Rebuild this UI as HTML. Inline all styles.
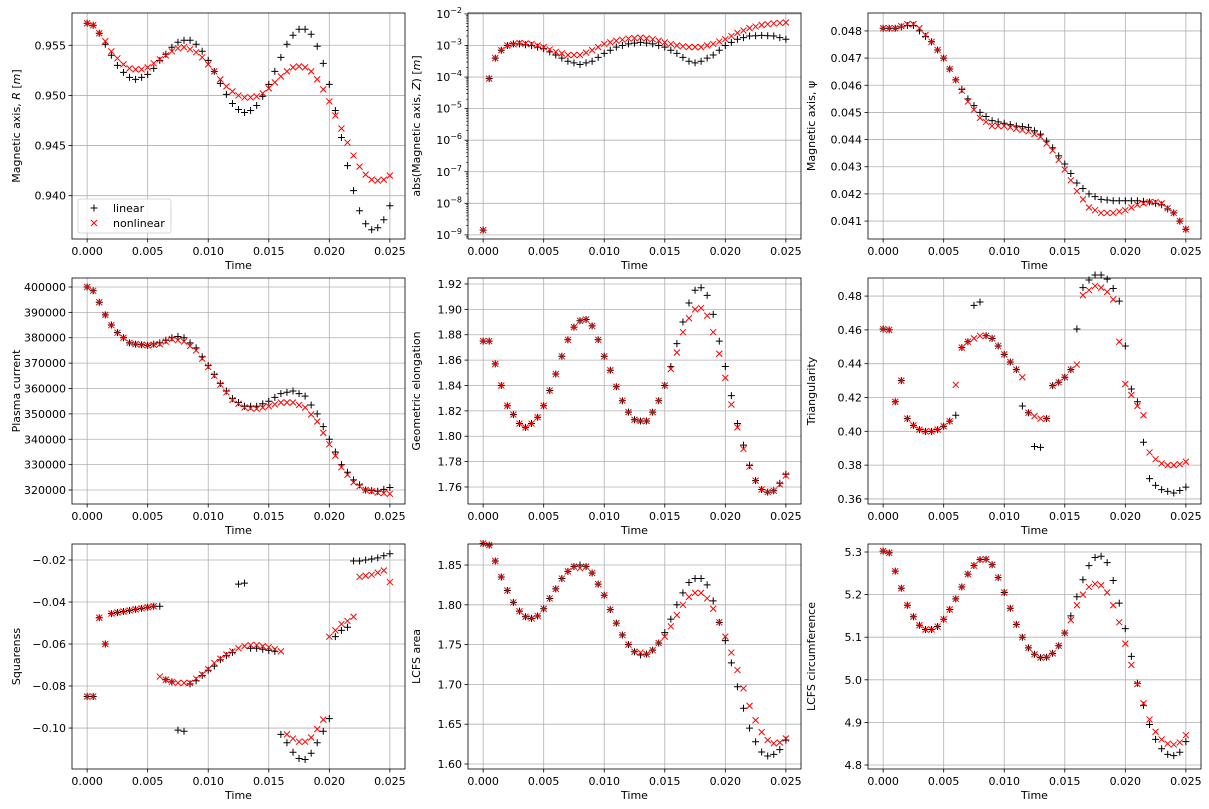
<!DOCTYPE html>
<html><head><meta charset="utf-8"><style>
html,body{margin:0;padding:0;background:#fff;}
svg{display:block;font-family:"DejaVu Sans","Liberation Sans",sans-serif;}
</style></head><body>
<svg id="s" width="1209" height="809" xmlns="http://www.w3.org/2000/svg"></svg>
<script>
const S=document.getElementById('s');let out='';
const NaN_=NaN;
function interp(kp){const a=[];for(let i=0;i<=50;i++){let v=NaN;for(let k=0;k<kp.length-1;k++){const[i0,v0]=kp[k],[i1,v1]=kp[k+1];if(i>=i0&&i<=i1){v=v0+(v1-v0)*(i-i0)/(i1-i0);break;}}a.push(v);}return a;}
function fromFlat(f){const kp=[];for(let k=0;k<f.length;k+=2)kp.push([f[k],f[k+1]]);return interp(kp);}
const cols=[[72,405],[468,801],[868,1201]],rows=[[13,239],[278,504],[544,769]];
const xl=[-0.00125,0.02625];
function fmt(v,d){let s=v.toFixed(d);return s.replace('-','\u2212');}
function panel(c,r,yl,ticks,dec,label,lin,nl,opts){opts=opts||{};
 const[x0,x1]=cols[c],[y0,y1]=rows[r];
 const X=t=>x0+(t-xl[0])/(xl[1]-xl[0])*(x1-x0);
 const Y=v=>y1-(v-yl[0])/(yl[1]-yl[0])*(y1-y0);
 // grid
 for(let k=0;k<=5;k++){const t=k*0.005,x=X(t);out+=`<line x1="${x}" y1="${y0}" x2="${x}" y2="${y1}" stroke="#b0b0b0" stroke-width="0.8"/>`;
  out+=`<line x1="${x}" y1="${y1}" x2="${x}" y2="${y1+3.5}" stroke="#000" stroke-width="0.8"/>`;
  out+=`<text x="${x}" y="${y1+16}" font-size="11" text-anchor="middle" fill="#000">${t.toFixed(3)}</text>`;}
 out+=`<text x="${(x0+x1)/2}" y="${y1+30}" font-size="11" text-anchor="middle">Time</text>`;
 for(const v of ticks){const y=Y(v);out+=`<line x1="${x0}" y1="${y}" x2="${x1}" y2="${y}" stroke="#b0b0b0" stroke-width="0.8"/><line x1="${x0-3.5}" y1="${y}" x2="${x0}" y2="${y}" stroke="#000" stroke-width="0.8"/>`;
  if(opts.log){out+=`<text x="${x0-6}" y="${y+4}" font-size="11" text-anchor="end">10<tspan dy="-5" font-size="8">\u2212${-v}</tspan></text>`;}
  else out+=`<text x="${x0-6}" y="${y+4}" font-size="11" text-anchor="end">${fmt(v,dec)}</text>`;}
 if(opts.log){for(let d=-10;d<-1;d++)for(let m=2;m<10;m++){const v=d+Math.log10(m);if(v>yl[0]&&v<yl[1]){const y=Y(v);out+=`<line x1="${x0-2}" y1="${y}" x2="${x0}" y2="${y}" stroke="#000" stroke-width="0.6"/>`;}}}
 // data
 for(let i=0;i<=50;i++){const t=i*0.0005,x=X(t);
  const a=lin[i];if(!isNaN(a)){const y=Y(a);out+=`<path d="M${x-3.5} ${y}H${x+3.5}M${x} ${y-3.5}V${y+3.5}" stroke="#000" stroke-width="1"/>`;}
  const b=nl[i];if(!isNaN(b)){const y=Y(b);out+=`<path d="M${x-3} ${y-3}L${x+3} ${y+3}M${x-3} ${y+3}L${x+3} ${y-3}" stroke="#f00" stroke-width="1"/>`;}}
 out+=`<rect x="${x0}" y="${y0}" width="${x1-x0}" height="${y1-y0}" fill="none" stroke="#000" stroke-width="0.8"/>`;
 const lx=[20,420,815][c];const ly=(y0+y1)/2;
 out+=`<text transform="translate(${lx},${ly}) rotate(-90)" font-size="11" text-anchor="middle">${label}</text>`;
}
// Panel 1
const p1l=[.9572,.9570,.9562,.9551,.9540,.9530,.9523,.9518,.9516,.9518,.9521,.9527,.9535,.9541,.9548,.9553,.9555,.9555,.9551,.9544,.9535,.9524,.9512,.9501,.9492,.9486,.9483,.9485,.9490,.9499,.9511,.9524,.9538,.9551,.9560,.9566,.9566,.9561,.9549,.9532,.9511,.9485,.9458,.9430,.9405,.9385,.9372,.9366,.9368,.9376,.9390];
const p1n=[.9572,.9570,.9562,.9554,.9544,.9537,.9531,.9527,.9526,.9526,.9528,.9532,.9536,.9540,.9544,.9547,.9548,.9546,.9543,.9538,.9531,.9524,.9516,.9509,.9504,.9500,.9498,.9498,.9499,.9502,.9507,.9513,.9519,.9524,.9528,.9529,.9528,.9524,.9516,.9506,.9494,.9480,.9467,.9453,.9440,.9429,.9421,.9416,.9415,.9416,.9420];
panel(0,0,[0.93568,0.95822],[.940,.945,.950,.955],3,'Magnetic axis, <tspan font-style="italic">R</tspan> [<tspan font-style="italic">m</tspan>]',p1l,p1n);
// Panel 2
const p2l=fromFlat([0,-8.85,1,-4.05,2,-3.4,3,-3.15,4,-3.0,5,-2.95,6,-2.95,8,-3.0,10,-3.1,12,-3.3,14,-3.5,16,-3.6,18,-3.5,20,-3.25,22,-3.05,24,-2.95,26,-2.9,28,-2.95,30,-3.05,32,-3.25,34,-3.5,35,-3.55,36,-3.5,38,-3.3,40,-3.0,42,-2.8,44,-2.7,46,-2.68,48,-2.7,50,-2.8]);
const p2n=fromFlat([0,-8.85,1,-4.05,2,-3.4,3,-3.15,4,-3.0,6,-2.92,8,-2.95,10,-3.05,12,-3.2,14,-3.3,16,-3.3,18,-3.15,20,-2.95,22,-2.85,24,-2.78,26,-2.75,28,-2.8,30,-2.9,32,-3.0,34,-3.05,36,-3.05,38,-2.95,40,-2.8,42,-2.6,44,-2.45,46,-2.35,48,-2.3,50,-2.27]);
panel(1,0,[-9.13,-1.97],[-9,-8,-7,-6,-5,-4,-3,-2],0,'abs(Magnetic axis, <tspan font-style="italic">Z</tspan>) [<tspan font-style="italic">m</tspan>]',p2l,p2n,{log:true});
// Panel 3
const p3l=fromFlat([0,.0481,2,.0481,4,.0482,5,.0482,6,.0480,8,.0476,10,.0470,12,.0462,14,.0455,16,.0450,18,.0447,20,.0446,22,.0445,24,.04445,26,.0442,28,.0437,30,.0431,32,.0424,34,.0420,36,.0418,38,.04175,42,.04175,44,.0417,46,.0416,48,.0413,50,.0407]);
const p3n=fromFlat([0,.0481,2,.0481,4,.04825,5,.04825,6,.0481,8,.0476,10,.0470,12,.0462,14,.0454,16,.0448,18,.0445,20,.0445,22,.0444,24,.0443,26,.0441,28,.0436,30,.0429,32,.0421,34,.0415,36,.0413,38,.0413,40,.0414,42,.0416,44,.0417,45,.0417,46,.04165,48,.0413,50,.0407]);
panel(2,0,[0.04034,0.04866],[.041,.042,.043,.044,.045,.046,.047,.048],3,'Magnetic axis, \u03C8',p3l,p3n);
// Panel 4
const p4l=fromFlat([0,400000,1,398500,2,394000,3,389000,4,385000,5,382000,6,380000,7,378000,8,377500,10,377000,12,378000,14,380000,15,380500,16,380000,18,376000,20,369000,22,362000,24,356000,26,353000,28,353000,30,355000,32,358000,34,359000,36,357000,38,350000,40,340000,42,330000,44,324000,46,320000,48,319500,50,321000]);
const p4n=fromFlat([0,400000,1,398500,2,394000,3,389000,4,385000,5,382000,6,380000,7,378000,8,377500,10,377000,12,377500,14,379500,16,378500,18,375000,20,368500,22,361500,24,355500,26,352500,28,352000,30,353000,32,354500,34,354500,36,352500,38,347000,40,338000,42,329000,44,323000,46,320000,48,319000,50,318500]);
panel(0,1,[314488,403543],[320000,330000,340000,350000,360000,370000,380000,390000,400000],0,'Plasma current',p4l,p4n);
// Panel 5
const base5=[1.875,1.875,1.857,1.840,1.824,1.817,1.810,1.807,1.810,1.815,1.824,1.836,1.849,1.863,1.876,1.886,1.891,1.892,1.887,1.876,1.863,1.852,1.839,1.828,1.819,1.813,1.812,1.812,1.819,1.828,1.840];
const p5l=base5.concat([1.855,1.873,1.890,1.905,1.915,1.917,1.911,1.896,1.875,1.855,1.832,1.810,1.793,1.777,1.765,1.758,1.756,1.757,1.763,1.770]);
const p5n=base5.concat([1.853,1.866,1.882,1.893,1.900,1.901,1.895,1.882,1.865,1.846,1.825,1.807,1.790,1.776,1.765,1.758,1.756,1.757,1.762,1.769]);
panel(1,1,[1.7466,1.9247],[1.76,1.78,1.80,1.82,1.84,1.86,1.88,1.90,1.92],2,'Geometric elongation',p5l,p5n);
// Panel 6
const p6l=[.4605,.460,.4175,.430,.4075,.4035,.401,.400,.400,.401,.403,.406,.4095,.4495,.453,.4745,.4765,.4565,.455,.4505,.4455,.441,.4365,.415,.411,.391,.3905,.4075,.427,.429,.432,.4365,.4605,.485,.4895,.4925,.4925,.490,.4845,.477,.4505,.425,.4175,.3935,.372,.368,.3655,.3645,.3635,.365,.367];
const p6n=[.4605,.460,.4175,.430,.4075,.4035,.401,.400,.400,.401,.403,.406,.4275,.4495,.453,.455,.4565,.4565,.455,.4505,.4455,.441,.4365,.432,.411,.409,.4075,.4075,.427,.429,.432,.4365,.4395,.4805,.4835,.486,.485,.4825,.478,.453,.428,.4215,.415,.4095,.3875,.3835,.381,.380,.380,.3805,.382];
panel(2,1,[0.357,0.4907],[.36,.38,.40,.42,.44,.46,.48],2,'Triangularity',p6l,p6n);
// Panel 7
const p7l=[-.085,-.085,-.0475,-.060,-.0455,-.045,-.0445,-.044,-.0435,-.043,-.0425,-.042,-.042,-.077,-.078,-.101,-.1015,-.079,-.0775,-.075,-.0725,-.0705,-.0675,-.0655,-.064,-.0315,-.031,-.062,-.062,-.0625,-.063,-.0635,-.103,-.107,-.1115,-.1145,-.115,-.112,-.107,-.1015,-.0955,-.0565,-.0535,-.052,-.0205,-.0205,-.020,-.0195,-.019,-.018,-.017];
const p7n=[-.085,-.085,-.0475,-.060,-.0455,-.045,-.0445,-.044,-.0435,-.043,-.0425,-.042,-.0755,-.077,-.078,-.0785,-.0785,-.0785,-.0765,-.0745,-.072,-.069,-.067,-.065,-.0635,-.062,-.061,-.0605,-.0605,-.061,-.0615,-.0625,-.0635,-.103,-.105,-.1065,-.1065,-.1045,-.1005,-.096,-.0565,-.0535,-.0505,-.049,-.047,-.028,-.0275,-.027,-.026,-.025,-.0305];
panel(0,2,[-0.1195,-0.01238],[-0.10,-0.08,-0.06,-0.04,-0.02],2,'Squarenss',p7l,p7n);
// Panel 8
const base8=[1.877,1.875,1.855,1.835,1.818,1.803,1.792,1.785,1.783,1.786,1.795,1.808,1.820,1.833,1.842,1.848,1.850,1.848,1.840,1.826,1.812,1.794,1.777,1.762,1.750,1.741,1.737,1.738,1.743,1.752];
const p8l=base8.concat([1.765,1.782,1.800,1.815,1.828,1.833,1.833,1.825,1.805,1.778,1.755,1.727,1.697,1.670,1.645,1.628,1.615,1.610,1.612,1.618,1.630]);
const p8n=base8.map((v,i)=>i==16?1.846:i==26?1.740:v).concat([1.760,1.773,1.787,1.800,1.810,1.815,1.815,1.808,1.795,1.778,1.760,1.740,1.718,1.695,1.673,1.655,1.640,1.630,1.626,1.627,1.632]);
panel(1,2,[1.5937,1.8764],[1.60,1.65,1.70,1.75,1.80,1.85],2,'LCFS area',p8l,p8n);
// Panel 9
const base9=[5.302,5.298,5.255,5.215,5.175,5.148,5.128,5.118,5.118,5.125,5.142,5.165,5.190,5.218,5.248,5.268,5.282,5.283,5.270,5.240,5.205,5.168,5.130,5.100,5.075,5.060,5.052,5.053,5.062,5.080,5.110];
const p9l=base9.concat([5.150,5.195,5.235,5.268,5.287,5.290,5.275,5.233,5.180,5.120,5.055,4.992,4.940,4.895,4.860,4.838,4.825,4.822,4.830,4.855]);
const p9n=base9.concat([5.140,5.175,5.200,5.218,5.225,5.222,5.205,5.175,5.135,5.085,5.035,4.990,4.945,4.907,4.878,4.860,4.850,4.848,4.853,4.870]);
panel(2,2,[4.7906,5.3188],[4.8,4.9,5.0,5.1,5.2,5.3],1,'LCFS circumference',p9l,p9n);
// legend
out+=`<rect x="78" y="199" width="93" height="34" rx="2" fill="#fff" fill-opacity="0.8" stroke="#ccc" stroke-width="0.8"/>`;
out+=`<path d="M90.5 208H97.5M94 204.5V211.5" stroke="#000" stroke-width="1"/><text x="113" y="212" font-size="11">linear</text>`;
out+=`<path d="M91 220L97 226M91 226L97 220" stroke="#f00" stroke-width="1"/><text x="113" y="227" font-size="11">nonlinear</text>`;
S.innerHTML=out;
</script>
</body></html>
